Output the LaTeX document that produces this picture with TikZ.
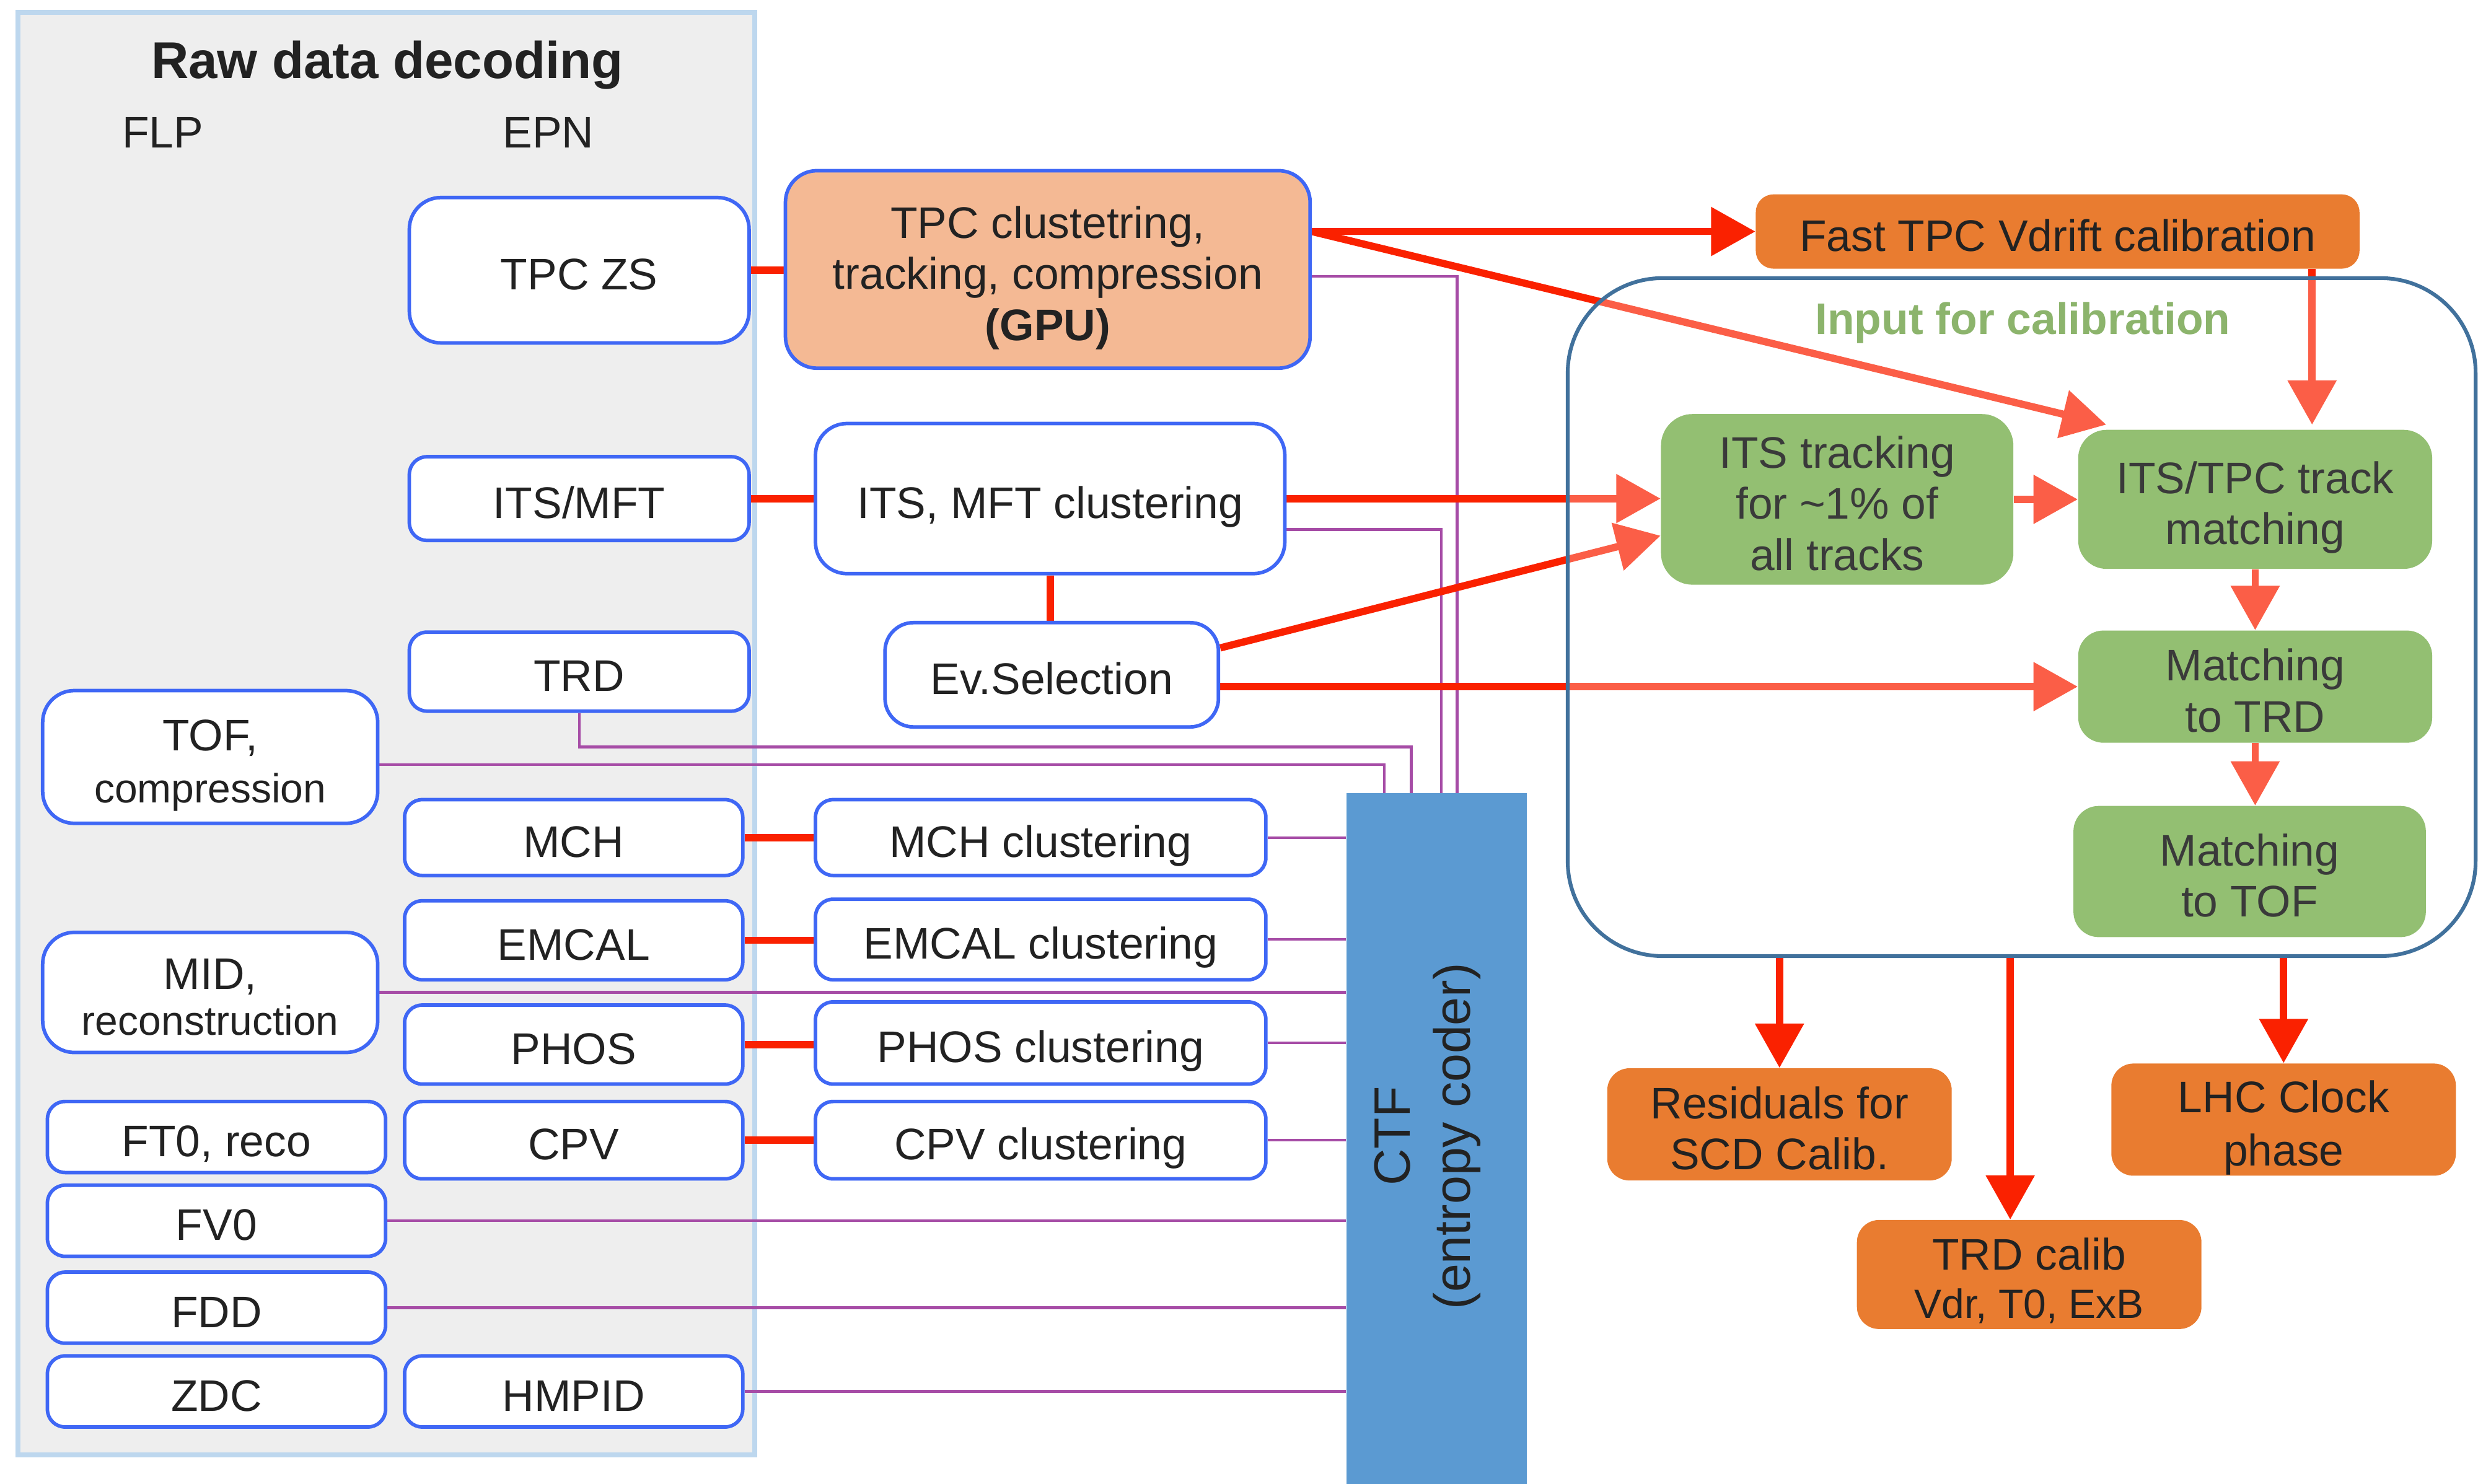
\documentclass[tikz,border=0pt]{standalone}
\usepackage{fontspec}
\setmainfont{Liberation Sans}
\usetikzlibrary{arrows.meta,calc}
\pgfdeclarelayer{bottom}
\pgfdeclarelayer{back}
\pgfsetlayers{bottom,back,main}

\definecolor{panelfill}{HTML}{EEEEEE}
\definecolor{panelline}{HTML}{BDD7EE}
\definecolor{boxline}{HTML}{3F67F5}
\definecolor{peach}{HTML}{F4B994}
\definecolor{orng}{HTML}{E97C30}
\definecolor{grn}{HTML}{93BF72}
\definecolor{grntext}{HTML}{8CB46C}
\definecolor{grnink}{HTML}{3A3A3A}
\definecolor{frameblue}{HTML}{41719C}
\definecolor{ctfblue}{HTML}{5B9AD2}
\definecolor{flowred}{HTML}{FA2100}
\definecolor{purp}{HTML}{A64CA6}
\definecolor{ink}{HTML}{222222}

% fixed line height and depth so that every label sits on the same optical centre
\newcommand\linetop{\rule{0pt}{22pt}}
\newcommand\linebot{\rule[-4.3pt]{0pt}{0pt}}

\tikzset{
  wh/.style 2 args={minimum width=#1*0.025cm, minimum height=#2*0.025cm},
  txt/.style={font=\fontsize{19.9}{23}\selectfont, text=ink, align=center, inner sep=0pt,
              execute at begin node=\linetop, execute at end node=\linebot},
  det/.style={txt, draw=boxline, line width=1.6pt, fill=white, rounded corners=0.28cm},
  detbig/.style={det, rounded corners=0.5cm},
  gbox/.style={txt, fill=grn, text=grnink, rounded corners=0.45cm},
  obox/.style={txt, fill=orng, rounded corners=0.35cm},
  flow/.style={draw=flowred, line width=0.115cm},
  arr/.style={flow, -{Triangle[length=0.7cm,width=0.75cm]}},
  feed/.style={draw=purp, line width=1.2pt},
}

\begin{document}
\begin{tikzpicture}[x=0.025cm, y=-0.025cm]
\useasboundingbox (0,0) rectangle (1568,939);

% ---------- raw data decoding panel ----------
\begin{pgfonlayer}{bottom}
  \draw[panelline, fill=panelfill, line width=2.2pt] (11.5,8) rectangle (477.5,920.5);
\end{pgfonlayer}
\node[txt, font=\bfseries\fontsize{23.3}{27}\selectfont] (title) at (245,37.5) {Raw data decoding};
\node[txt] (flp) at (103,81) {FLP};
\node[txt] (epn) at (347,81) {EPN};

% EPN column
\node[detbig, wh={215}{92}] (tpczs) at (366.5,171) {TPC ZS};
\node[det, wh={215}{53}] (itsmft) at (366.5,315.5) {ITS/MFT};
\node[det, wh={215}{50}] (trd) at (366.5,425) {TRD};
\node[det, wh={214}{48}] (mch) at (363,530) {MCH};
\node[det, wh={214}{50}] (emcal) at (363,595) {EMCAL};
\node[det, wh={214}{50}] (phos) at (363,661) {PHOS};
\node[det, wh={214}{49}] (cpv) at (363,721.5) {CPV};
\node[det, wh={214}{45}] (hmpid) at (363,880.5) {HMPID};

% FLP column
\node[detbig, wh={212}{84}] (tof) at (133,479)
  {\linetop TOF,\\[0.6pt]\fontsize{18.4}{22}\selectfont compression\linebot};
\node[detbig, wh={212}{76}] (mid) at (133,628)
  {\linetop MID,\\[-2.5pt]\fontsize{18.4}{22}\selectfont reconstruction\linebot};
\node[det, wh={214}{45}] (ft0) at (137,719.5) {FT0, reco};
\node[det, wh={214}{45}] (fv0) at (137,772.5) {FV0};
\node[det, wh={214}{45}] (fdd) at (137,827.5) {FDD};
\node[det, wh={214}{45}] (zdc) at (137,880.5) {ZDC};

% processing column
\node[detbig, fill=peach, wh={332}{125}] (tpccl) at (663,170.5)
  {\linetop TPC clustetring,\\tracking, compression\\\textbf{(GPU)}\linebot};
\node[detbig, wh={297}{95}] (itscl) at (664.5,315.5) {ITS, MFT clustering};
\node[det, rounded corners=0.45cm, wh={211}{66}] (evsel) at (665.5,427) {Ev.Selection};
\node[det, wh={285}{48}] (mchcl) at (658.5,530) {MCH clustering};
\node[det, wh={285}{51}] (emcl) at (658.5,594.5) {EMCAL clustering};
\node[det, wh={285}{52}] (phcl) at (658.5,660) {PHOS clustering};
\node[det, wh={285}{49}] (cpvcl) at (658.5,721.5) {CPV clustering};

% compressed time frame
\node[fill=ctfblue, inner sep=0pt, wh={114}{440}] (ctf) at (909,722) {};
\node[txt, rotate=90, font=\fontsize{23}{27}\selectfont] (ctftext) at (899,719)
  {\linetop CTF\\(entropy coder)\linebot};

% calibration
\node[obox, rounded corners=0.28cm, wh={382}{47}] (fast) at (1302,146.5) {Fast TPC Vdrift calibration};
\node[gbox, rounded corners=0.5cm, wh={223}{108}] (itstrk) at (1162.5,316)
  {\linetop ITS tracking\\for \textasciitilde1\% of\\all tracks\linebot};
\node[gbox, wh={224}{88}] (itstpc) at (1427,316) {\linetop ITS/TPC track\\matching\linebot};
\node[gbox, rounded corners=0.4cm, wh={224}{71}] (mtrd) at (1427,434.5) {\linetop Matching\\to TRD\linebot};
\node[gbox, rounded corners=0.4cm, wh={223}{83}] (mtof) at (1423.5,551.5) {\linetop Matching\\to TOF\linebot};
\node[txt, font=\bfseries\fontsize{19.9}{23}\selectfont, text=grntext] (inlabel) at (1280,199) {Input for calibration};
\node[obox, wh={218}{71}] (res) at (1126,711.5) {\linetop Residuals for\\SCD Calib.\linebot};
\node[obox, wh={218}{69}] (trdcal) at (1284,806.5)
  {\linetop TRD calib\\[-1.4pt]\fontsize{18.4}{22}\selectfont Vdr, T0, ExB\linebot};
\node[obox, wh={218}{71}] (lhc) at (1445,708.5) {\linetop LHC Clock\\[1pt]phase\linebot};

\begin{pgfonlayer}{back}
  % data into the entropy coder
  \draw[feed] ($(tpccl.east)+(0,4.5)$) -| ($(ctf.north)+(13,0)$);
  \draw[feed] ($(itscl.east)+(0,19.5)$) -| ($(ctf.north)+(3,0)$);
  \coordinate (trdbend) at ($(ctf.north)+(-16,-29)$);
  \draw[feed] (trd.south) |- (trdbend) -- (trdbend |- ctf.north);
  \coordinate (tofbend) at ($(ctf.north)+(-33,-18)$);
  \draw[feed] (tof.east |- tofbend) -- (tofbend) -- (tofbend |- ctf.north);
  \foreach \src in {mchcl,emcl,mid,phcl,cpvcl,fv0,fdd,hmpid}
    \draw[feed] (\src.east) -- (\src.east -| ctf.west);

  % raw data into processing
  \draw[flow] (tpczs.east) -- (tpczs.east -| tpccl.west);
  \draw[flow] (itsmft.east) -- (itsmft.east -| itscl.west);
  \draw[flow] (itscl.south) -- (itscl.south |- evsel.north);
  \foreach \a/\b in {mch/mchcl,emcal/emcl,phos/phcl,cpv/cpvcl}
    \draw[flow] (\a.east) -- (\a.east -| \b.west);

  % processing into calibration
  \coordinate (tpcout) at (tpccl.east |- fast.west);
  \draw[arr] (tpcout) -- (fast.west);
  \draw[arr] (tpcout) -- ($(itstpc.north west)+(18,-3)$);
  \draw[arr] (itscl.east) -- (itscl.east -| itstrk.west);
  \draw[arr] ($(evsel.east)+(0,-17)$) -- ($(itstrk.west)+(0,23)$);
  \draw[arr] (evsel.east |- mtrd.west) -- (mtrd.west);
  \coordinate (vdin) at ($(itstpc.north)+(36,-3)$);
  \draw[arr] (fast.south -| vdin) -- (vdin);
  \draw[arr] (itstrk.east) -- (itstrk.east -| itstpc.west);
  \draw[arr] (itstpc.south) -- (itstpc.south |- mtrd.north);
  \draw[arr] (mtrd.south) -- (mtrd.south |- mtof.north);

  % region that collects the calibration input
  \node[draw=frameblue, line width=1.7pt, fill=white, fill opacity=0.28,
        rounded corners=1.5cm, inner sep=0pt, wh={574.5}{429}] (calib) at (1279.25,390.5) {};

  % calibration outputs
  \draw[arr] (res.north |- calib.south) -- (res.north);
  \coordinate (trdin) at ($(trdcal.north)+(-12,0)$);
  \draw[arr] (trdin |- calib.south) -- (trdin);
  \draw[arr] (lhc.north |- calib.south) -- (lhc.north);
\end{pgfonlayer}
\end{tikzpicture}
\end{document}
